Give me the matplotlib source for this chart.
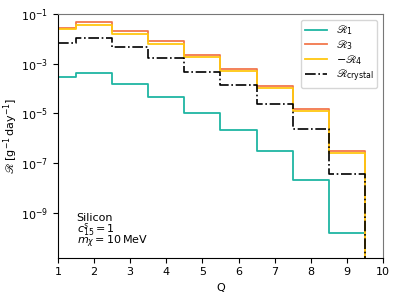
import numpy as np
import matplotlib
matplotlib.use("Agg")
import matplotlib.pyplot as plt

Q = [1, 2, 3, 4, 5, 6, 7, 8, 9, 10]
R1 = [2.8e-4, 4.2e-4, 1.5e-4, 4.7e-5, 1.0e-5, 2.1e-6, 3.0e-7, 2.1e-8, 1.6e-10, 1e-30]
R3 = [2.8e-2, 4.8e-2, 2.07e-2, 8.1e-3, 2.2e-3, 5.9e-4, 1.23e-4, 1.45e-5, 2.95e-7, 1e-30]
mR4 = [2.4e-2, 3.6e-2, 1.6e-2, 6.4e-3, 1.8e-3, 4.9e-4, 1.02e-4, 1.23e-5, 2.5e-7, 1e-30]
Rcrystal = [6.6e-3, 1.1e-2, 4.6e-3, 1.7e-3, 4.8e-4, 1.35e-4, 2.5e-5, 2.3e-6, 3.6e-8, 1e-30]

plt.rcParams['font.size'] = 8
fig = plt.figure(figsize=(3.99, 2.99), dpi=100)
ax = fig.add_axes([0.145, 0.138, 0.815, 0.815])

ax.step(Q, R1, where='mid', color='#1fb5a3', lw=1.3, label=r'$\mathscr{R}_1$')
ax.step(Q, R3, where='mid', color='#f0602d', lw=1.3, alpha=0.85, label=r'$\mathscr{R}_3$')
ax.step(Q, mR4, where='mid', color='#ffc710', lw=1.3, label=r'$-\mathscr{R}_4$')
ax.step(Q, Rcrystal, where='mid', color='black', lw=1.2, ls='-.', label=r'$\mathscr{R}_\mathrm{crystal}$')

ax.set_yscale('log')
ax.set_xlim(1, 10)
ax.set_ylim(1.55e-11, 1e-1)
ax.set_yticks([1e-1, 1e-3, 1e-5, 1e-7, 1e-9])
ax.yaxis.set_minor_locator(matplotlib.ticker.NullLocator())
ax.set_xticks(range(1, 11))
ax.set_xlabel('Q')
ax.set_ylabel(r'$\mathscr{R}\;[\mathrm{g}^{-1}\,\mathrm{day}^{-1}]$')
ax.yaxis.set_label_coords(-0.115, 0.5)
for s in ['top', 'right']:
    ax.spines[s].set_color('#777777')

ax.legend(loc='upper right', fontsize=8, labelspacing=0.08, borderpad=0.35,
          borderaxespad=0.5)
ax.text(0.058, 0.152, 'Silicon', transform=ax.transAxes, fontsize=8, va='baseline', ha='left')
ax.text(0.058, 0.104, r'$c_{15}^{s}=1$', transform=ax.transAxes, fontsize=8, va='baseline', ha='left')
ax.text(0.058, 0.055, r'$m_\chi=10\,\mathrm{MeV}$', transform=ax.transAxes, fontsize=8, va='baseline', ha='left')

fig.savefig('out.png', dpi=100)
